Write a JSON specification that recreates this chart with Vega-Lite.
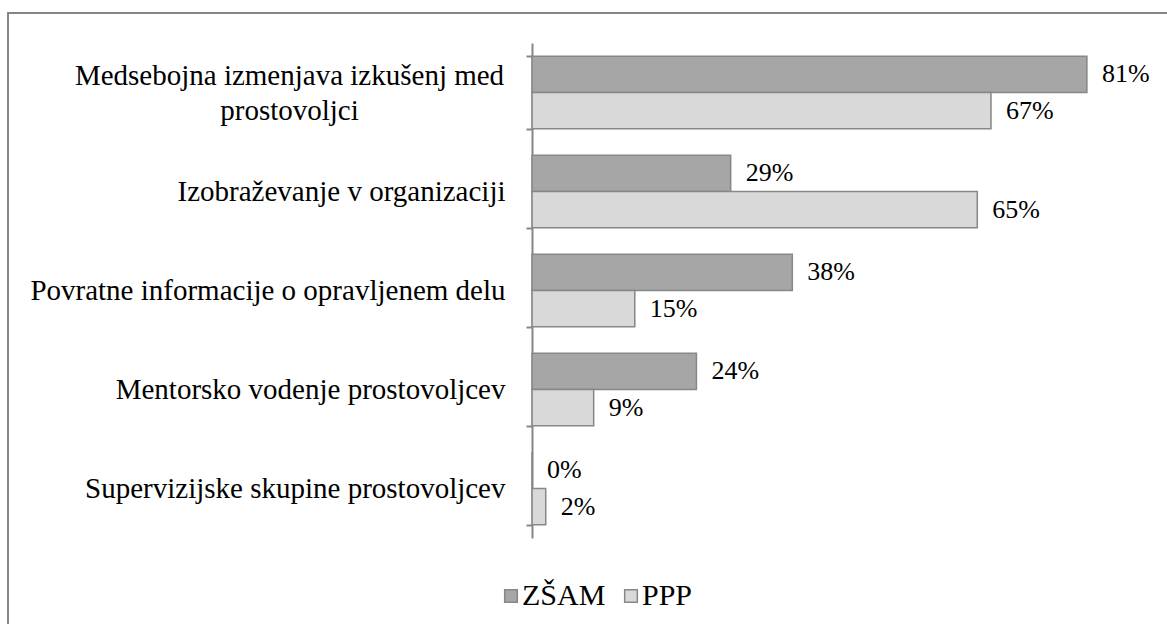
{
  "$schema": "https://vega.github.io/schema/vega-lite/v6.json",
  "autosize": "none",
  "width": 1170,
  "height": 620,
  "padding": {"left": 8, "top": 13, "right": 0, "bottom": 0},
  "background": "white",
  "config": {
    "view": {"stroke": "#868686", "strokeWidth": 2}
  },
  "data": {
    "values": [
      {"category": "Medsebojna izmenjava izkušenj med prostovoljci", "series": "ZŠAM", "value": 0.81},
      {"category": "Medsebojna izmenjava izkušenj med prostovoljci", "series": "PPP", "value": 0.67},
      {"category": "Izobraževanje v organizaciji", "series": "ZŠAM", "value": 0.29},
      {"category": "Izobraževanje v organizaciji", "series": "PPP", "value": 0.65},
      {"category": "Povratne informacije o opravljenem delu", "series": "ZŠAM", "value": 0.38},
      {"category": "Povratne informacije o opravljenem delu", "series": "PPP", "value": 0.15},
      {"category": "Mentorsko vodenje prostovoljcev", "series": "ZŠAM", "value": 0.24},
      {"category": "Mentorsko vodenje prostovoljcev", "series": "PPP", "value": 0.09},
      {"category": "Supervizijske skupine prostovoljcev", "series": "ZŠAM", "value": 0.0},
      {"category": "Supervizijske skupine prostovoljcev", "series": "PPP", "value": 0.02}
    ]
  },
  "encoding": {
    "y": {
      "field": "category",
      "type": "nominal",
      "sort": null,
      "scale": {"range": [30, 525], "paddingInner": 0.27, "paddingOuter": 0.135},
      "axis": {
        "title": null,
        "orient": "left",
        "offset": -524,
        "domainColor": "#868686",
        "domainWidth": 2,
        "tickColor": "#868686",
        "tickWidth": 2,
        "tickSize": 6,
        "tickBand": "extent",
        "labelFont": "Liberation Serif",
        "labelFontSize": 29,
        "labelColor": "black",
        "labelLimit": 0,
        "labelLineHeight": 35,
        "labelAlign": {"condition": {"test": "datum.value == 'Medsebojna izmenjava izkušenj med prostovoljci'", "value": "center"}, "value": "right"},
        "labelPadding": {"condition": {"test": "datum.value == 'Medsebojna izmenjava izkušenj med prostovoljci'", "value": 237}, "value": 21},
        "labelOffset": {"condition": {"test": "datum.value == 'Medsebojna izmenjava izkušenj med prostovoljci'", "value": -17}, "value": 0},
        "labelExpr": "datum.value == 'Medsebojna izmenjava izkušenj med prostovoljci' ? ['Medsebojna izmenjava izkušenj med', 'prostovoljci'] : datum.value"
      }
    },
    "yOffset": {
      "field": "series",
      "type": "nominal",
      "scale": {"domain": ["ZŠAM", "PPP"], "paddingInner": 0, "paddingOuter": 0}
    },
    "x": {
      "field": "value",
      "type": "quantitative",
      "scale": {"domain": [-0.765, 0.943], "nice": false, "zero": false},
      "axis": null
    }
  },
  "layer": [
    {
      "mark": {"type": "bar", "stroke": "#878787", "strokeWidth": 1.5},
      "encoding": {
        "color": {
          "field": "series",
          "type": "nominal",
          "scale": {"domain": ["ZŠAM", "PPP"], "range": ["#a6a6a6", "#d9d9d9"]},
          "legend": {
            "title": null,
            "orient": "none",
            "direction": "horizontal",
            "legendX": 488,
            "legendY": 568,
            "symbolType": "square",
            "symbolSize": 160,
            "symbolStrokeColor": "#878787",
            "symbolStrokeWidth": 1.5,
            "labelFont": "Liberation Serif",
            "labelFontSize": 30,
            "labelColor": "black",
            "labelOffset": -4,
            "columnPadding": 10
          }
        }
      }
    },
    {
      "mark": {"type": "text", "align": "left", "baseline": "middle", "dx": 15, "fontSize": 26, "font": "Liberation Serif", "color": "black"},
      "encoding": {
        "text": {"field": "value", "type": "quantitative", "format": ".0%"}
      }
    }
  ]
}
